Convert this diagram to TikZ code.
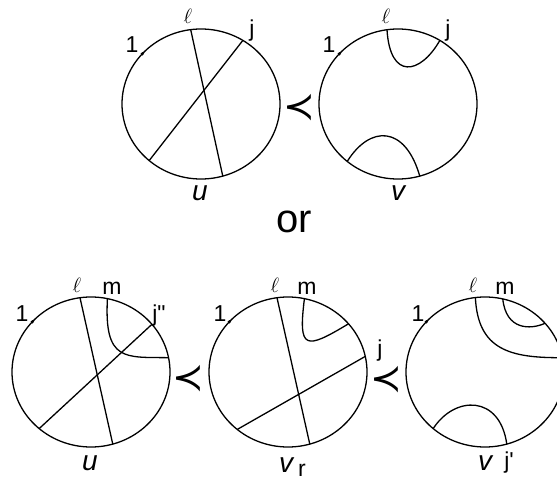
\documentclass[tikz,border=0pt]{standalone}
\usepackage{fontspec}
\setmainfont{Liberation Sans}
\newfontfamily\djvb{DejaVu Sans}
\tikzset{
  circ/.style={line width=1.3pt},
  chord/.style={line width=1.3pt},
  lbl/.style={inner sep=0pt, font=\fontsize{23}{23}\selectfont},
  ellbl/.style={inner sep=0pt, font=\fontsize{20}{20}\selectfont},
  dname/.style={inner sep=0pt, font=\fontsize{28}{28}\selectfont\itshape},
  precsym/.style={inner sep=0pt, font=\fontsize{38}{38}\selectfont\djvb},
  dotp/.style={fill=black, circle, inner sep=0pt, minimum size=3.6pt}
}
\begin{document}
\begin{tikzpicture}[x=1pt,y=-1pt]
\useasboundingbox (0,0) rectangle (557,481);
% ---------- circle 1 (u, top)
\begin{scope}[shift={(201,104)}]
  \draw[circ] (0,0) ellipse [x radius=79pt, y radius=75pt];
  \coordinate (A1) at (97.5:79pt and 75pt);
  \coordinate (B1) at (-74:79pt and 75pt);
  \coordinate (C1) at (58:79pt and 75pt);
  \coordinate (D1) at (-131:79pt and 75pt);
  \node[dotp] (P1) at (138:79pt and 75pt) {};
\end{scope}
\draw[chord] (A1) -- (B1);
\draw[chord] (C1) -- (D1);
\node[ellbl] (l1) at (188,16) {$\ell$};
\node[lbl] (j1) at (252,31) {j};
\node[lbl] (o1) at (132,45) {1};
\node[dname] (u1) at (200,193) {u};
% ---------- circle 2 (v, top)
\begin{scope}[shift={(398,104)}]
  \draw[circ] (0,0) ellipse [x radius=79pt, y radius=75pt];
  \coordinate (A2) at (98:79pt and 75pt);
  \coordinate (C2) at (58:79pt and 75pt);
  \coordinate (E2) at (-130:79pt and 75pt);
  \coordinate (F2) at (-74:79pt and 75pt);
  \node[dotp] (P2) at (138:79pt and 75pt) {};
\end{scope}
\draw[chord] (A2) .. controls (390,80) and (420,75) .. (C2);
\draw[chord] (E2) .. controls (370,125) and (405,125) .. (F2);
\node[ellbl] (l2) at (386,16) {$\ell$};
\node[lbl] (j2) at (448,31) {j};
\node[lbl] (o2) at (329,45) {1};
\node[dname] (v2) at (398,193) {v};
\node[precsym] (pr1) at (299,108) {≺};
% ---------- or
\node[inner sep=0pt, font=\fontsize{40}{40}\selectfont] (or) at (294,222) {or};
% ---------- circle 3 (u, bottom)
\begin{scope}[shift={(91,372)}]
  \draw[circ] (0,0) ellipse [x radius=79pt, y radius=75pt];
  \coordinate (A3) at (98:79pt and 75pt);
  \coordinate (B3) at (-74:79pt and 75pt);
  \coordinate (J3) at (39.5:79pt and 75pt);
  \coordinate (D3) at (-131:79pt and 75pt);
  \coordinate (M3) at (78:79pt and 75pt);
  \coordinate (K3) at (11:79pt and 75pt);
  \node[dotp] (P3) at (138:79pt and 75pt) {};
\end{scope}
\draw[chord] (A3) -- (B3);
\draw[chord] (J3) -- (D3);
\draw[chord] (M3) .. controls (104,362) and (125,357) .. (K3);
\node[ellbl] (l3) at (77,285) {$\ell$};
\node[lbl] (m3) at (112,288) {m};
\node[lbl] (j3) at (159,316) {j\textquotedbl};
\node[lbl] (o3) at (22,314) {1};
\node[dname] (u3) at (90,463) {u};
\node[precsym] (pr2) at (188,379) {≺};
% ---------- circle 4 (v_r)
\begin{scope}[shift={(288,372)}]
  \draw[circ] (0,0) ellipse [x radius=79pt, y radius=75pt];
  \coordinate (A4) at (98:79pt and 75pt);
  \coordinate (B4) at (-74:79pt and 75pt);
  \coordinate (J4) at (12:79pt and 75pt);
  \coordinate (D4) at (-130:79pt and 75pt);
  \coordinate (M4) at (78:79pt and 75pt);
  \coordinate (K4) at (40:79pt and 75pt);
  \node[dotp] (P4) at (138:79pt and 75pt) {};
\end{scope}
\draw[chord] (A4) -- (B4);
\draw[chord] (J4) -- (D4);
\draw[chord] (M4) .. controls (298,350) and (305,350) .. (K4);
\node[ellbl] (l4) at (275,285) {$\ell$};
\node[lbl] (m4) at (307,288) {m};
\node[lbl] (o4) at (220,314) {1};
\node[dname, anchor=base] (v4) at (286,472) {v};
\node[lbl, anchor=base] (r4) at (302,476) {r};
\node[lbl] (j4) at (380,351) {j};
\node[precsym] (pr3) at (386,380) {≺};
% ---------- circle 5 (v, bottom)
\begin{scope}[shift={(485,372)}]
  \draw[circ] (0,0) ellipse [x radius=79pt, y radius=75pt];
  \coordinate (A5) at (97:79pt and 75pt);
  \coordinate (K5) at (11:79pt and 75pt);
  \coordinate (M5) at (77:79pt and 75pt);
  \coordinate (N5) at (40.5:79pt and 75pt);
  \coordinate (E5) at (-131:79pt and 75pt);
  \coordinate (F5) at (-74:79pt and 75pt);
  \node[dotp] (P5) at (138:79pt and 75pt) {};
\end{scope}
\draw[chord] (A5) .. controls (478,350) and (510,358) .. (K5);
\draw[chord] (M5) .. controls (506,330) and (530,330) .. (N5);
\draw[chord] (E5) .. controls (455,395) and (500,395) .. (F5);
\node[ellbl] (l5) at (473,285) {$\ell$};
\node[lbl] (m5) at (505,288) {m};
\node[lbl] (o5) at (418,314) {1};
\node[dname] (v5) at (485,463) {v};
\node[lbl] (j5) at (509,463) {j\textquotesingle};
\end{tikzpicture}
\end{document}
